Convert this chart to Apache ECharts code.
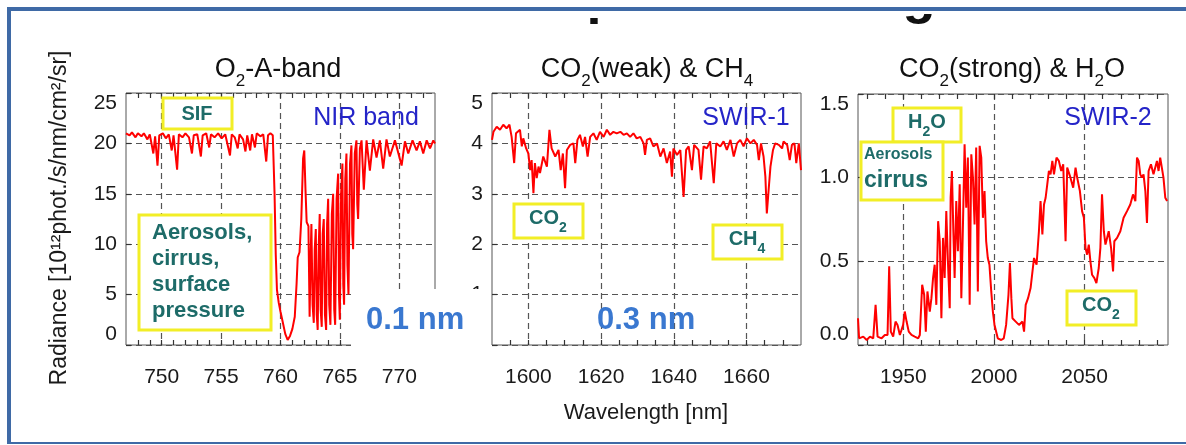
<!DOCTYPE html>
<html><head><meta charset="utf-8">
<script src="https://cdn.jsdelivr.net/npm/echarts@6/dist/echarts.min.js"></script>
<style>html,body{margin:0;padding:0;background:#fff}#c{width:1186px;height:445px}</style>
</head><body><div id="c"></div>
<script>
// ---------- data ----------
const p1X = [747.0,747.3,747.5,747.8,748.0,748.3,748.5,748.8,749.0,749.3,749.45,749.65,749.8,750.1,750.35,750.6,750.85,751.0,751.3,751.45,751.75,752.0,752.3,752.55,752.7,753.0,753.3,753.45,753.75,754.0,754.15,754.45,754.75,755.05,755.35,755.75,755.9,756.15,756.4,756.55,756.85,757.05,757.2,757.45,757.6,757.85,758.0,758.3,758.55,758.8,758.95,759.15,759.35,759.5,759.6,759.7,759.85,760.0,760.2,760.4,760.6,760.8,761.0,761.2,761.35,761.45,761.6,761.75,761.9,762.0,762.1,762.2,762.35,762.45,762.52,762.6,762.7,762.8,762.88,762.97,763.05,763.13,763.22,763.3,763.38,763.47,763.55,763.64,763.74,763.84,763.92,764.01,764.1,764.2,764.32,764.43,764.52,764.6,764.72,764.85,764.92,764.99,765.1,765.21,765.28,765.35,765.45,765.55,765.63,765.72,765.85,765.97,766.04,766.11,766.25,766.39,766.46,766.53,766.68,766.82,767.01,767.24,767.52,767.8,768.08,768.36,768.64,768.92,769.2,769.63,770.19,770.47,770.75,771.11,771.45,771.73,772.01,772.3,772.58,772.86,773.0];
const p1Y = [21.0,20.8,21.1,20.6,21.0,20.7,21.0,20.4,20.9,19.0,20.7,17.8,20.8,21.0,20.5,20.9,19.3,20.8,17.4,20.9,20.6,21.0,20.6,19.0,20.8,20.9,18.7,20.8,21.0,19.6,20.9,20.6,21.0,20.5,20.9,18.8,20.9,20.6,19.5,20.9,20.4,19.2,20.8,19.3,20.9,19.6,21.0,20.7,20.9,18.2,20.8,21.0,20.8,15.0,9.0,5.5,4.2,3.3,2.2,1.1,0.5,0.9,1.6,2.8,6.0,8.7,9.2,12.5,18.5,19.3,15.5,12.2,11.8,2.8,8.0,12.0,4.0,2.2,9.5,11.5,3.0,1.5,10.0,13.0,3.5,1.8,11.0,12.5,3.0,1.5,12.0,14.5,4.0,2.0,13.0,15.0,3.5,2.0,14.5,17.0,5.0,2.5,15.0,18.0,6.0,4.0,16.5,19.0,8.0,5.0,18.0,19.8,11.0,9.5,19.0,20.3,14.0,12.5,19.5,20.3,15.4,20.3,17.3,20.4,18.6,20.3,17.5,20.4,18.7,20.3,17.8,20.2,19.0,20.3,19.3,20.2,19.0,20.3,19.5,20.3,20.0];

const p2X = [1590.0,1590.4,1591.3,1592.2,1593.1,1594.0,1594.8,1595.4,1596.1,1596.6,1597.7,1598.2,1598.6,1599.4,1600.0,1600.5,1600.9,1601.4,1601.8,1602.3,1602.8,1603.2,1604.1,1605.1,1605.8,1606.4,1607.4,1608.3,1608.9,1609.5,1610.1,1610.6,1611.5,1612.4,1612.9,1613.5,1614.2,1615.0,1615.6,1616.3,1617.0,1617.9,1618.8,1619.7,1620.7,1621.6,1622.5,1623.4,1624.3,1625.3,1626.2,1627.1,1628.0,1628.9,1629.8,1630.8,1631.7,1632.1,1632.6,1633.5,1634.4,1635.4,1636.3,1637.2,1638.1,1639.0,1639.5,1639.9,1640.9,1641.8,1642.7,1643.4,1644.1,1645.0,1645.6,1646.8,1647.5,1648.2,1649.1,1650.0,1651.0,1651.7,1652.8,1653.7,1654.6,1655.6,1656.5,1657.4,1658.3,1659.2,1660.1,1661.1,1662.0,1662.9,1663.4,1664.0,1664.7,1665.2,1665.6,1666.1,1666.6,1667.3,1667.9,1668.9,1669.8,1670.2,1671.2,1671.9,1672.5,1673.2,1673.7,1674.4,1675.0];
const p2Y = [4.07,4.23,4.33,4.27,4.37,4.30,4.37,4.13,3.61,4.20,4.27,3.94,4.10,3.90,3.80,3.47,3.67,3.01,3.61,3.31,3.54,3.41,3.74,3.54,4.27,3.90,3.74,3.87,3.47,3.80,3.11,3.87,3.97,4.00,3.61,4.07,4.17,3.94,4.13,3.74,4.13,4.20,4.07,4.23,4.13,4.27,4.17,4.23,4.20,4.23,4.17,4.20,4.13,4.20,4.10,4.13,4.00,3.77,4.07,4.10,3.94,4.00,3.74,3.90,3.61,3.84,3.34,3.90,3.77,3.87,2.94,3.87,3.94,3.47,3.97,3.87,3.28,3.94,3.90,4.04,3.21,4.00,3.94,4.04,3.87,4.07,3.74,4.00,4.07,3.94,4.10,4.00,4.07,3.97,3.67,4.00,3.74,3.34,2.61,3.08,3.54,3.87,4.00,3.97,3.90,4.04,3.97,3.67,3.97,4.00,3.61,4.00,3.47];

const p3X = [1925.0,1925.6,1927.9,1929.8,1931.6,1933.4,1934.7,1935.8,1938.0,1939.8,1941.3,1942.2,1943.1,1944.4,1945.7,1946.8,1948.1,1949.0,1949.9,1950.8,1951.8,1953.0,1954.5,1956.3,1958.2,1959.1,1960.4,1961.5,1962.4,1963.3,1964.6,1965.5,1966.4,1967.3,1968.2,1969.2,1970.1,1971.0,1971.9,1972.8,1973.7,1974.6,1975.6,1976.1,1976.8,1977.6,1978.3,1979.2,1980.1,1981.1,1982.0,1982.9,1983.8,1984.7,1985.6,1986.6,1987.5,1988.4,1989.3,1990.2,1991.1,1992.1,1993.0,1993.9,1994.8,1995.7,1996.6,1997.5,1998.5,1999.4,2000.3,2002.1,2004.0,2005.4,2006.7,2008.0,2008.8,2009.6,2010.2,2012.0,2013.8,2015.7,2016.6,2017.5,2018.8,2020.2,2022.1,2023.5,2024.8,2025.7,2026.7,2027.6,2028.5,2029.4,2030.3,2031.2,2032.2,2033.1,2034.5,2035.8,2037.1,2038.2,2039.5,2040.4,2042.2,2043.7,2045.0,2045.9,2047.4,2048.6,2049.6,2050.5,2051.4,2052.3,2053.2,2054.1,2055.4,2056.5,2057.8,2058.7,2059.6,2060.6,2061.5,2062.4,2063.3,2064.6,2065.7,2066.4,2067.9,2069.7,2071.5,2073.4,2075.2,2076.7,2078.0,2078.9,2079.8,2080.7,2081.6,2082.5,2083.5,2084.4,2085.3,2086.6,2088.0,2089.9,2090.8,2091.7,2092.6,2093.5,2094.5,2095.5];
const p3Y = [0.16,0.04,0.05,0.03,0.05,0.04,0.24,0.05,0.04,0.06,0.06,0.47,0.08,0.05,0.14,0.12,0.06,0.09,0.12,0.20,0.14,0.08,0.06,0.05,0.04,0.06,0.36,0.30,0.08,0.32,0.20,0.28,0.40,0.48,0.24,0.74,0.62,0.16,0.64,0.40,0.80,0.50,0.22,0.88,1.04,0.68,0.40,0.86,0.56,0.96,0.28,0.72,1.20,0.82,1.12,0.24,1.14,1.00,0.72,1.18,0.32,1.19,1.12,0.76,0.92,0.62,0.52,0.48,0.32,0.20,0.12,0.04,0.03,0.04,0.12,0.30,0.49,0.28,0.16,0.14,0.12,0.14,0.08,0.24,0.28,0.34,0.52,0.48,0.68,0.86,0.66,0.84,0.88,0.96,1.04,1.02,1.10,1.02,1.12,1.10,1.04,1.08,0.62,1.06,1.00,0.94,1.06,1.00,0.92,0.80,0.76,0.58,0.54,0.60,0.50,0.42,0.40,0.37,0.46,0.58,0.90,0.68,0.60,0.64,0.68,0.58,0.44,0.62,0.64,0.68,0.76,0.80,0.84,0.90,0.86,1.12,1.10,1.02,1.00,1.02,0.92,0.73,1.04,1.08,1.02,1.10,1.04,1.12,1.06,1.00,0.88,0.86];

const p1Labels = [750,755,760,765,770];
const p2Labels = [1600,1620,1640,1660];
const p3Labels = [1950,2000,2050];
const p1Minor = [748,749,750,751,752,753,754,755,756,757,758,759,760,761,762,763,764,765,766,767,768,769,770,771,772];
const p2Minor = [1595,1600,1605,1610,1615,1620,1625,1630,1635,1640,1645,1650,1655,1660,1665,1670];
const p3Minor = [1930,1940,1950,1960,1970,1980,1990,2000,2010,2020,2030,2040,2050,2060,2070,2080,2090];

// ---------- styling ----------
const FONT = '"Liberation Sans", Arial, Helvetica, sans-serif';
const TEAL = '#1d6b68', BLUE = '#2424c8', LBLUE = '#3a78d0', YEL = '#f2ee26', GRIDC = '#555', FRAME = '#3f6aa6';
const zip = (xs, ys) => xs.map((x, i) => [x, ys[i]]);

function xMajor(g, min, max, labels) {
  return { type: 'value', gridIndex: g, position: 'bottom', min, max,
    axisLine: { show: false, onZero: false },
    axisTick: { show: false, customValues: labels },
    axisLabel: { customValues: labels, fontSize: 21, color: '#1a1a1a', fontFamily: FONT, margin: 22, formatter: v => String(v) },
    splitLine: { show: true, lineStyle: { color: GRIDC, type: [6, 4], width: 1.2 } } };
}
function xMinor(g, min, max, ticks, pos) {
  return { type: 'value', gridIndex: g, position: pos, min, max,
    axisLine: { show: false, onZero: false },
    axisTick: { show: true, inside: true, length: 5, customValues: ticks, lineStyle: { color: '#333', width: 1.2 } },
    axisLabel: { show: false }, splitLine: { show: false } };
}
function yAx(g, min, max, interval, dec) {
  return { type: 'value', gridIndex: g, min, max, interval,
    axisLine: { show: false, onZero: false },
    axisTick: { show: true, inside: true, length: 5, lineStyle: { color: '#333', width: 1.2 } },
    axisLabel: { fontSize: 21, color: '#1a1a1a', fontFamily: FONT, margin: 9,
      formatter: v => v.toFixed(dec), verticalAlignMinLabel: 'bottom', verticalAlignMaxLabel: 'top' },
    splitLine: { show: true, lineStyle: { color: GRIDC, type: [6, 4], width: 1.2 } } };
}
function ser(xi, yi, data) {
  return { type: 'line', xAxisIndex: xi, yAxisIndex: yi, data, showSymbol: false, symbol: 'none',
    lineStyle: { color: '#ff0000', width: 2 }, z: 3, silent: true, animation: false };
}
function box(x, y, w, h) {
  return { type: 'rect', z: 100, shape: { x, y, width: w, height: h }, style: { fill: '#fff', stroke: YEL, lineWidth: 3 } };
}
function txt(x, y, text, o) {
  return { type: 'text', z: 110, style: Object.assign({ x, y, text, fontFamily: FONT, align: 'center', verticalAlign: 'middle' }, o) };
}
function subTxt(x, y, text, fill, big, small, weight, drop) {
  return { type: 'text', z: 110, style: { x, y, text, align: 'center', verticalAlign: 'middle',
    rich: {
      m: { fontSize: big, fontWeight: weight, fill, fontFamily: FONT, lineHeight: big + 4, verticalAlign: 'top' },
      s: { fontSize: small, fontWeight: weight, fill, fontFamily: FONT, padding: [drop, 0, 0, 0], verticalAlign: 'top' }
    } } };
}

const chart = echarts.init(document.getElementById('c'), null, { renderer: 'canvas' });
chart.setOption({
  animation: false,
  backgroundColor: '#fff',
  grid: [
    { left: 126, top: 93, width: 309, height: 252, show: true, borderColor: GRIDC, borderWidth: 1 },
    { left: 492, top: 93, width: 309, height: 252, show: true, borderColor: GRIDC, borderWidth: 1 },
    { left: 858, top: 94, width: 310, height: 251, show: true, borderColor: GRIDC, borderWidth: 1 }
  ],
  xAxis: [
    xMajor(0, 747, 773, p1Labels), xMinor(0, 747, 773, p1Minor, 'bottom'), xMinor(0, 747, 773, p1Minor, 'top'),
    xMajor(1, 1590, 1675, p2Labels), xMinor(1, 1590, 1675, p2Minor, 'bottom'), xMinor(1, 1590, 1675, p2Minor, 'top'),
    xMajor(2, 1925, 2096, p3Labels), xMinor(2, 1925, 2096, p3Minor, 'bottom'), xMinor(2, 1925, 2096, p3Minor, 'top')
  ],
  yAxis: [ yAx(0, 0, 25, 5, 0), yAx(1, 0, 5, 1, 0), yAx(2, 0, 1.5, 0.5, 1) ],
  series: [ ser(0, 0, zip(p1X, p1Y)), ser(3, 1, zip(p2X, p2Y)), ser(6, 2, zip(p3X, p3Y)) ],
  graphic: { elements: [
    // white patch behind the resolution labels
    { type: 'rect', z: 90, shape: { x: 351, y: 289, width: 137, height: 64 }, style: { fill: '#fff' } },
    txt(366, 320, '0.1 nm', { align: 'left', fontSize: 31, fontWeight: 'bold', fill: LBLUE }),
    txt(597, 320, '0.3 nm', { align: 'left', fontSize: 31, fontWeight: 'bold', fill: LBLUE }),
    // panel titles
    subTxt(278, 73, '{m|O}{s|2}{m|-A-band}', '#111', 27, 17, 'normal', 17),
    subTxt(647, 73, '{m|CO}{s|2}{m|(weak) & CH}{s|4}', '#111', 27, 17, 'normal', 17),
    subTxt(1012, 73, '{m|CO}{s|2}{m|(strong) & H}{s|2}{m|O}', '#111', 27, 17, 'normal', 17),
    // band names
    txt(366, 118, 'NIR band', { fontSize: 25, fill: BLUE }),
    txt(746, 118, 'SWIR-1', { fontSize: 25, fill: BLUE }),
    txt(1108, 118, 'SWIR-2', { fontSize: 25, fill: BLUE }),
    // annotation boxes
    box(163, 98, 69, 31), txt(197, 114, 'SIF', { fontSize: 20, fontWeight: 'bold', fill: TEAL }),
    box(139, 215, 132, 115),
    txt(152, 272, 'Aerosols,\ncirrus,\nsurface\npressure', { align: 'left', fontSize: 22, fontWeight: 'bold', lineHeight: 26, fill: TEAL }),
    box(514, 204, 69, 34), subTxt(548, 222, '{m|CO}{s|2}', TEAL, 20, 14, 'bold', 13),
    box(713, 225, 69, 34), subTxt(747, 243, '{m|CH}{s|4}', TEAL, 20, 14, 'bold', 13),
    box(893, 108, 68, 34), subTxt(927, 126, '{m|H}{s|2}{m|O}', TEAL, 20, 14, 'bold', 13),
    box(861, 142, 82, 58),
    txt(864, 155, 'Aerosols', { align: 'left', fontSize: 16, fontWeight: 'bold', fill: TEAL }),
    txt(864, 181, 'cirrus', { align: 'left', fontSize: 23, fontWeight: 'bold', fill: TEAL }),
    box(1067, 291, 69, 34), subTxt(1101, 309, '{m|CO}{s|2}', TEAL, 20, 14, 'bold', 13),
    // axis titles
    txt(646, 413, 'Wavelength [nm]', { fontSize: 22, fill: '#1a1a1a' }),
    { type: 'text', z: 110, x: 60, y: 218, rotation: Math.PI / 2,
      style: { x: 0, y: 0, text: 'Radiance [10¹²phot./s/nm/cm²/sr]', fontFamily: FONT, fontSize: 23, fill: '#1a1a1a', align: 'center', verticalAlign: 'middle' } },
    // descenders of the cropped slide heading
    txt(603, 25, 'p', { fontSize: 54, fontWeight: 'bold', fill: '#111', verticalAlign: 'bottom' }),
    txt(919, 25, 'g', { fontSize: 54, fontWeight: 'bold', fill: '#111', verticalAlign: 'bottom' }),
    { type: 'rect', z: 115, shape: { x: 0, y: 0, width: 1186, height: 14 }, style: { fill: '#fff' } },
    { type: 'rect', z: 115, shape: { x: 570, y: 0, width: 60, height: 18 }, style: { fill: '#fff' } },
    // slide frame
    { type: 'rect', z: 120, shape: { x: 7, y: 7, width: 1179, height: 4 }, style: { fill: FRAME } },
    { type: 'rect', z: 120, shape: { x: 7, y: 7, width: 4, height: 437 }, style: { fill: FRAME } },
    { type: 'rect', z: 120, shape: { x: 7, y: 442, width: 1179, height: 2 }, style: { fill: FRAME } }
  ] }
});
</script></body></html>
